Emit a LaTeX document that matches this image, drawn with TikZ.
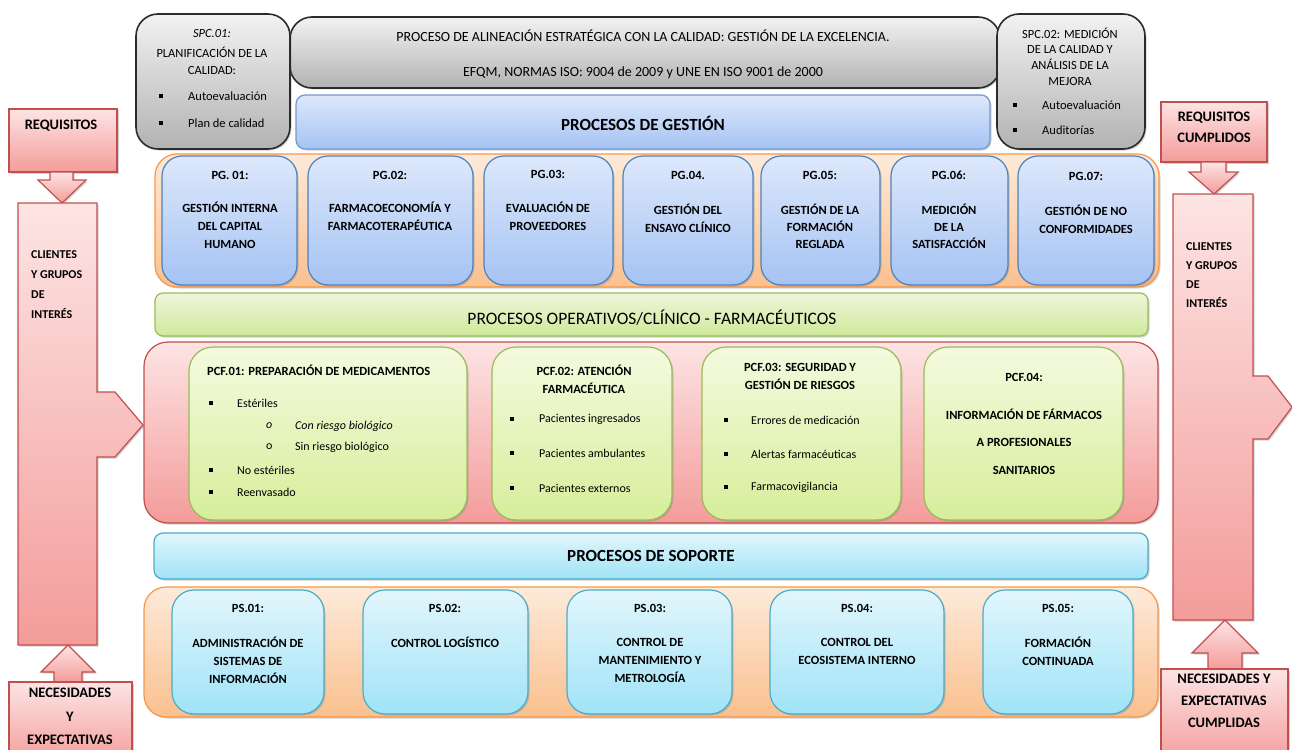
\documentclass[tikz,border=0pt]{standalone}
\usepackage{fontspec}
\setmainfont{Carlito}
\usetikzlibrary{shadows}
\definecolor{grayT}{HTML}{F2F2F2}
\definecolor{grayB}{HTML}{B2B2B2}
\definecolor{grayL}{HTML}{2B2B2B}
\definecolor{blueT}{HTML}{DDE8FB}
\definecolor{blueB}{HTML}{A5C3F3}
\definecolor{blueL}{HTML}{4F81BD}
\definecolor{orT}{HTML}{FDEADA}
\definecolor{orB}{HTML}{FAC08F}
\definecolor{orL}{HTML}{F79646}
\definecolor{grT}{HTML}{EEF6DC}
\definecolor{grB}{HTML}{CFE99A}
\definecolor{grL}{HTML}{9BBB59}
\definecolor{pkT}{HTML}{FDE4E4}
\definecolor{pkB}{HTML}{F39C9A}
\definecolor{pkL}{HTML}{C0504D}
\definecolor{lgT}{HTML}{F4FADF}
\definecolor{lgB}{HTML}{D6EE9A}
\definecolor{cyT}{HTML}{E2F6FC}
\definecolor{cyB}{HTML}{A0E3F7}
\definecolor{cyL}{HTML}{4BACC6}
\newcommand\bxx[6]{\node[#2, minimum width={(#5)-(#3)}, minimum height={(#6)-(#4)}] (#1) at (#3,#4) {};}
\begin{document}
\begin{tikzpicture}[x=1pt,y=-1pt,
 base/.style={rectangle, anchor=north west, inner sep=0pt, outer sep=0pt, line width=1.2pt},
 shd/.style={drop shadow={shadow xshift=1.5pt, shadow yshift=-1.5pt, opacity=0.35}},
 graybox/.style={base, rounded corners=22pt, draw=grayL, line width=1.6pt, top color=grayT, bottom color=grayB, shd},
 bluebar/.style={base, rounded corners=9pt, draw=blueL!80, top color=blueT, bottom color=blueB, shd},
 pgbox/.style={base, rounded corners=20pt, draw=blueL, top color=blueT, bottom color=blueB, shd},
 orcont/.style={base, rounded corners=22pt, draw=orL, top color=orT, bottom color=orB, shd},
 greenbar/.style={base, rounded corners=8pt, draw=grL, top color=grT, bottom color=grB, shd},
 pinkcont/.style={base, rounded corners=24pt, draw=pkL, top color=pkT, bottom color=pkB, shd},
 pcfbox/.style={base, rounded corners=24pt, draw=grL, top color=lgT, bottom color=lgB, shd},
 cyanbar/.style={base, rounded corners=9pt, draw=cyL, top color=cyT, bottom color=cyB, shd},
 psbox/.style={base, rounded corners=22pt, draw=cyL, top color=cyT, bottom color=cyB, shd},
 pinkshape/.style={draw=pkL, line width=1.2pt, top color=pkT, bottom color=pkB, shd},
 pinkbox/.style={base, draw=pkL, top color=pkT, bottom color=pkB, shd},
 bul/.style={rectangle, fill=black, inner sep=0pt, minimum size=3.5pt},
 t/.style={inner sep=0pt, align=center, font=\fontsize{12.5}{18}\selectfont\bfseries},
 tr/.style={inner sep=0pt, align=center, font=\fontsize{12.5}{18}\selectfont},
 it/.style={inner sep=0pt, anchor=west, font=\fontsize{12}{14}\selectfont},
 hd/.style={inner sep=0pt, font=\fontsize{17}{20}\selectfont\bfseries},
 side/.style={inner sep=0pt, align=left, anchor=west, font=\fontsize{12}{20}\selectfont\bfseries},
 lab/.style={inner sep=0pt, align=center, font=\fontsize{14.5}{22}\selectfont\bfseries}
]
\useasboundingbox (0,0) rectangle (1292,749);
\clip (0,0) rectangle (1292,749);

% ---------------- top row
\bxx{top}{graybox}{290}{17}{1000}{88}
\node[tr, font=\fontsize{14}{16}\selectfont] (topa) at (643,36) {PROCESO DE ALINEACIÓN ESTRATÉGICA CON LA CALIDAD: GESTIÓN DE LA EXCELENCIA.};
\node[tr, font=\fontsize{14}{16}\selectfont] (topb) at (643,73) {EFQM, NORMAS ISO: 9004 de 2009 y UNE EN ISO 9001 de 2000};

\bxx{spc1}{graybox}{136}{14}{290}{149}
\node[tr] (spc1a) at (212,33) {\itshape SPC.01:};
\node[tr, font=\fontsize{12.5}{17}\selectfont] (spc1b) at (212,60.5) {PLANIFICACIÓN DE LA\\CALIDAD:};
\node[bul] (spc1c) at (161,96) {};
\node[it, font=\fontsize{12.5}{14}\selectfont] (spc1d) at (188,96) {Autoevaluación};
\node[bul] (spc1e) at (161,123) {};
\node[it, font=\fontsize{12.5}{14}\selectfont] (spc1f) at (188,123) {Plan de calidad};

\bxx{spc2}{graybox}{997}{14}{1145}{149}
\node[tr, font=\fontsize{12.5}{15.7}\selectfont] (spc2a) at (1070,56.5) {SPC.02: MEDICIÓN\\DE LA CALIDAD Y\\ANÁLISIS DE LA\\MEJORA};
\node[bul] (spc2b) at (1015,105) {};
\node[it, font=\fontsize{12.5}{14}\selectfont] (spc2c) at (1042,105) {Autoevaluación};
\node[bul] (spc2d) at (1015,130) {};
\node[it, font=\fontsize{12.5}{14}\selectfont] (spc2e) at (1042,130) {Auditorías};

\bxx{gest}{bluebar}{296}{95}{990}{149}
\node[hd] (gestt) at (643,123) {PROCESOS DE GESTIÓN};

% ---------------- PG row
\bxx{pgc}{orcont}{155}{154}{1159}{287}
\bxx{pg1}{pgbox}{162}{156}{297}{285}
\bxx{pg2}{pgbox}{308}{156}{473}{285}
\bxx{pg3}{pgbox}{484}{156}{613}{285}
\bxx{pg4}{pgbox}{623}{156}{753}{285}
\bxx{pg5}{pgbox}{761}{156}{880}{285}
\bxx{pg6}{pgbox}{891}{156}{1008}{285}
\bxx{pg7}{pgbox}{1018}{156}{1154}{285}
\node[t] (pg1a) at (230,175) {PG. 01:};
\node[t] (pg1b) at (230,225) {GESTIÓN INTERNA\\DEL CAPITAL\\HUMANO};
\node[t] (pg2a) at (390,175) {PG.02:};
\node[t] (pg2b) at (390,216) {FARMACOECONOMÍA Y\\FARMACOTERAPÉUTICA};
\node[t] (pg3a) at (548,174) {PG.03:};
\node[t] (pg3b) at (548,216) {EVALUACIÓN DE\\PROVEEDORES};
\node[t] (pg4a) at (688,175) {PG.04.};
\node[t] (pg4b) at (688,218) {GESTIÓN DEL\\ENSAYO CLÍNICO};
\node[t] (pg5a) at (820,175) {PG.05:};
\node[t, font=\fontsize{12.5}{17}\selectfont\bfseries] (pg5b) at (820,226) {GESTIÓN DE LA\\FORMACIÓN\\REGLADA};
\node[t] (pg6a) at (949,175) {PG.06:};
\node[t, font=\fontsize{12.5}{17}\selectfont\bfseries] (pg6b) at (949,226) {MEDICIÓN\\DE LA\\SATISFACCIÓN};
\node[t] (pg7a) at (1086,176) {PG.07:};
\node[t] (pg7b) at (1086,219) {GESTIÓN DE NO\\CONFORMIDADES};

% ---------------- operative
\bxx{ops}{greenbar}{155}{293}{1148}{336}
\node[hd, font=\fontsize{17.5}{20}\selectfont] (opst) at (652,318) {PROCESOS OPERATIVOS/CLÍNICO - FARMACÉUTICOS};

\bxx{pcfc}{pinkcont}{144}{342}{1158}{523}
\bxx{pcf1}{pcfbox}{189}{347}{467}{520}
\bxx{pcf2}{pcfbox}{492}{347}{672}{520}
\bxx{pcf3}{pcfbox}{702}{347}{901}{520}
\bxx{pcf4}{pcfbox}{924}{347}{1123}{520}

\node[t, anchor=west] (p1a) at (207,370) {PCF.01: PREPARACIÓN DE MEDICAMENTOS};
\node[bul] (p1b) at (211,403) {};
\node[it] (p1c) at (237,403) {Estériles};
\node[it] (p1d) at (266,426) {\itshape o};
\node[it] (p1e) at (295,426) {\itshape Con riesgo biológico};
\node[it] (p1f) at (266,447) {o};
\node[it] (p1g) at (295,447) {Sin riesgo biológico};
\node[bul] (p1h) at (211,470) {};
\node[it] (p1i) at (237,470) {No estériles};
\node[bul] (p1j) at (211,492) {};
\node[it] (p1k) at (237,492) {Reenvasado};

\node[t] (p2a) at (584,379) {PCF.02: ATENCIÓN\\FARMACÉUTICA};
\node[bul] (p2b) at (512,419) {};
\node[it] (p2c) at (539,419) {Pacientes ingresados};
\node[bul] (p2d) at (512,453) {};
\node[it] (p2e) at (539,453) {Pacientes ambulantes};
\node[bul] (p2f) at (512,488) {};
\node[it] (p2g) at (539,488) {Pacientes externos};

\node[t] (p3a) at (800,376.5) {PCF.03: SEGURIDAD Y\\GESTIÓN DE RIESGOS};
\node[bul] (p3b) at (726,420) {};
\node[it] (p3c) at (751,420) {Errores de medicación};
\node[bul] (p3d) at (726,454) {};
\node[it] (p3e) at (751,454) {Alertas farmacéuticas};
\node[bul] (p3f) at (726,487) {};
\node[it] (p3g) at (751,487) {Farmacovigilancia};

\node[t] (p4a) at (1024,377) {PCF.04:};
\node[t, font=\fontsize{12.5}{27.5}\selectfont\bfseries] (p4b) at (1024,441.5) {INFORMACIÓN DE FÁRMACOS\\A PROFESIONALES\\SANITARIOS};

% ---------------- support
\bxx{sop}{cyanbar}{154}{533}{1148}{579}
\node[hd] (sopt) at (651,556) {PROCESOS DE SOPORTE};

\bxx{psc}{orcont}{144}{587}{1158}{717}
\bxx{ps1}{psbox}{172}{590}{324}{714}
\bxx{ps2}{psbox}{363}{590}{528}{714}
\bxx{ps3}{psbox}{567}{590}{732}{714}
\bxx{ps4}{psbox}{770}{590}{944}{714}
\bxx{ps5}{psbox}{983}{590}{1133}{714}
\node[t] (ps1a) at (248,608) {PS.01:};
\node[t] (ps1b) at (248,660) {ADMINISTRACIÓN DE\\SISTEMAS DE\\INFORMACIÓN};
\node[t] (ps2a) at (445,608) {PS.02:};
\node[t] (ps2b) at (445,642) {CONTROL LOGÍSTICO};
\node[t] (ps3a) at (650,608) {PS.03:};
\node[t] (ps3b) at (650,660) {CONTROL DE\\MANTENIMIENTO Y\\METROLOGÍA};
\node[t] (ps4a) at (857,608) {PS.04:};
\node[t] (ps4b) at (857,651) {CONTROL DEL\\ECOSISTEMA INTERNO};
\node[t] (ps5a) at (1058,608) {PS.05:};
\node[t] (ps5b) at (1058,651) {FORMACIÓN\\CONTINUADA};

% ---------------- left side
\bxx{req}{pinkbox}{9}{109}{117}{172}
\node[lab] (reqt) at (61,126) {REQUISITOS};
\path[pinkshape] (50,172) -- (73,172) -- (73,180) -- (86,180) -- (62,203) -- (38,180) -- (50,180) -- cycle;
\path[pinkshape] (18,203) -- (97,203) -- (97,392) -- (115,392) -- (143,425) -- (115,457) -- (97,457) -- (97,645) -- (18,645) -- cycle;
\coordinate (lcol) at (57,424);
\node[side] (lcolt) at (31,285) {CLIENTES\\Y GRUPOS\\DE\\INTERÉS};
\path[pinkshape] (68,645) -- (95,672) -- (82,672) -- (82,682) -- (54,682) -- (54,672) -- (41,672) -- cycle;
\bxx{nec}{pinkbox}{9}{682}{132}{765}
\node[lab, font=\fontsize{14.5}{23.5}\selectfont\bfseries] (nect) at (70,716.5) {NECESIDADES\\Y\\EXPECTATIVAS};

% ---------------- right side
\bxx{reqc}{pinkbox}{1161}{102}{1267}{162}
\node[lab, font=\fontsize{14.5}{21}\selectfont\bfseries] (reqct) at (1214,127.5) {REQUISITOS\\CUMPLIDOS};
\path[pinkshape] (1201,162) -- (1226,162) -- (1226,172) -- (1238,172) -- (1214,194) -- (1189,172) -- (1201,172) -- cycle;
\path[pinkshape] (1173,194) -- (1253,194) -- (1253,376) -- (1268,376) -- (1292,407) -- (1268,439) -- (1253,439) -- (1253,620) -- (1173,620) -- cycle;
\node[side, font=\fontsize{12}{19}\selectfont\bfseries] (rcolt) at (1186,275.5) {CLIENTES\\Y GRUPOS\\DE\\INTERÉS};
\path[pinkshape] (1225,620) -- (1258,653) -- (1242,653) -- (1242,669) -- (1208,669) -- (1208,653) -- (1192,653) -- cycle;
\bxx{necc}{pinkbox}{1161}{669}{1288}{765}
\node[lab, font=\fontsize{14.5}{22}\selectfont\bfseries] (necct) at (1224,701) {NECESIDADES Y\\EXPECTATIVAS\\CUMPLIDAS};
\end{tikzpicture}
\end{document}
